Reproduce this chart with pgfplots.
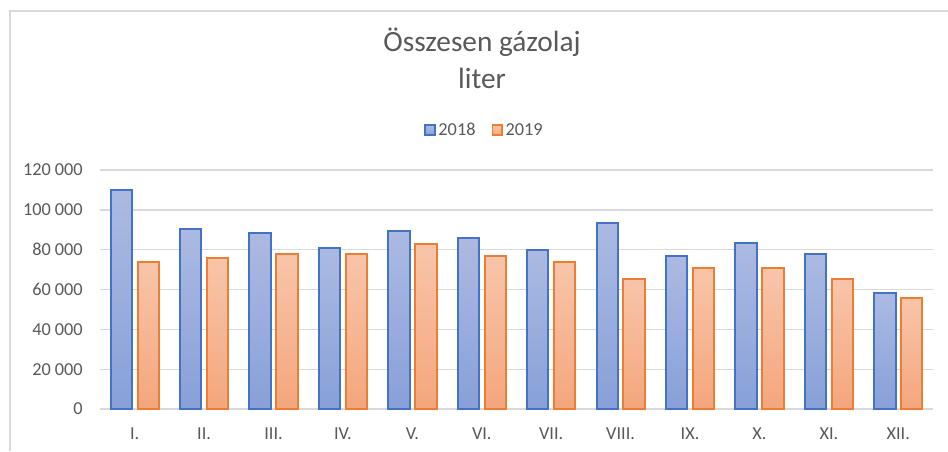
\documentclass[border=0pt]{standalone}
\usepackage{fontspec}
\setmainfont{Carlito}
\usepackage{pgfplots}
\pgfplotsset{compat=1.18}
\definecolor{txt}{HTML}{595959}
\definecolor{gridc}{HTML}{D9D9D9}
\definecolor{bEdge}{HTML}{4472C4}
\definecolor{oEdge}{HTML}{ED7D31}
\definecolor{bTop}{RGB}{171,186,226}
\definecolor{bBot}{RGB}{136,160,216}
\definecolor{oTop}{RGB}{248,197,170}
\definecolor{oBot}{RGB}{244,166,124}
\tikzset{
  bstyle/.style={draw=bEdge, line width=1.5pt, top color=bTop, bottom color=bBot},
  ostyle/.style={draw=oEdge, line width=1.5pt, top color=oTop, bottom color=oBot},
}
\pgfplotsset{
  bA/.style={ybar, bar width=16pt, bar shift=-10.1pt, bstyle, forget plot},
  oA/.style={ybar, bar width=16pt, bar shift=10.1pt, ostyle, forget plot},
}
\begin{document}
\begin{tikzpicture}
\useasboundingbox (0,0) rectangle (711pt,338.25pt);
% chart frame
\draw[gridc, line width=1.5pt] (7.5pt,0pt) -- (7.5pt,330pt) -- (711pt,330pt);
\begin{axis}[
  at={(75pt,31.5pt)}, anchor=south west,
  scale only axis, width=624.75pt, height=179.25pt,
  xmin=-0.5, xmax=11.5, ymin=0, ymax=120000,
  xtick={0,...,11},
  xticklabels={I.,II.,III.,IV.,V.,VI.,VII.,VIII.,IX.,X.,XI.,XII.},
  ytick={0,20000,40000,60000,80000,100000,120000},
  yticklabels={0,20\hspace{0.22em}000,40\hspace{0.22em}000,60\hspace{0.22em}000,80\hspace{0.22em}000,100\hspace{0.22em}000,120\hspace{0.22em}000},
  scaled y ticks=false,
  major tick length=0pt,
  axis line style={draw=none},
  ymajorgrids, grid style={gridc, line width=1pt},
  ticklabel style={font=\fontsize{13.7}{16}\selectfont, text=txt},
  yticklabel style={inner sep=0pt, xshift=-12.75pt},
  xticklabel style={inner sep=0pt, yshift=-14pt},
  legend style={at={(0.462,1.167)}, anchor=center, draw=none, fill=none,
    font=\fontsize{13.7}{16}\selectfont, text=txt,
    /tikz/every even column/.append style={column sep=10pt}},
  legend columns=2,
  legend image code/.code={\draw[#1, line width=1.2pt] (0pt,-3.6pt) rectangle (7.4pt,3.6pt);},
]
\addplot[bA] coordinates {(0,110060)};
\addplot[bA] coordinates {(1,90420)};
\addplot[bA] coordinates {(2,88270)};
\addplot[bA] coordinates {(3,81030)};
\addplot[bA] coordinates {(4,89430)};
\addplot[bA] coordinates {(5,86060)};
\addplot[bA] coordinates {(6,80020)};
\addplot[bA] coordinates {(7,93550)};
\addplot[bA] coordinates {(8,76800)};
\addplot[bA] coordinates {(9,83200)};
\addplot[bA] coordinates {(10,77860)};
\addplot[bA] coordinates {(11,58080)};
\addplot[oA] coordinates {(0,73680)};
\addplot[oA] coordinates {(1,75840)};
\addplot[oA] coordinates {(2,77860)};
\addplot[oA] coordinates {(3,77860)};
\addplot[oA] coordinates {(4,82890)};
\addplot[oA] coordinates {(5,76850)};
\addplot[oA] coordinates {(6,73680)};
\addplot[oA] coordinates {(7,65430)};
\addplot[oA] coordinates {(8,70650)};
\addplot[oA] coordinates {(9,70650)};
\addplot[oA] coordinates {(10,65270)};
\addplot[oA] coordinates {(11,55870)};
\addlegendimage{bstyle}
\addlegendentry{2018}
\addlegendimage{ostyle}
\addlegendentry{2019}
\end{axis}
\node[anchor=base, font=\fontsize{22}{27}\selectfont, text=txt] at (361.5pt,299.25pt) {Összesen gázolaj};
\node[anchor=base, font=\fontsize{22}{27}\selectfont, text=txt] at (361.5pt,272.25pt) {liter};
\end{tikzpicture}
\end{document}
